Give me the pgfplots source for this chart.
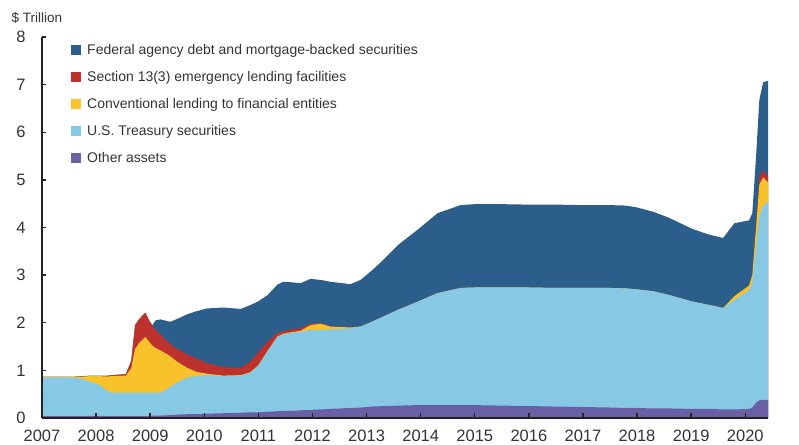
\documentclass[border=0pt]{standalone}
\usepackage{pgfplots}
\pgfplotsset{compat=1.18}
\usepackage{pgfplotstable}
\usepackage{fontspec}
\setmainfont{Liberation Sans}

\definecolor{agency}{HTML}{2C5E8C}
\definecolor{sec133}{HTML}{BE322D}
\definecolor{lending}{HTML}{F8C22A}
\definecolor{treasury}{HTML}{87C8E4}
\definecolor{other}{HTML}{695FA5}
\definecolor{txt}{HTML}{333333}
\definecolor{axl}{HTML}{222222}

% cumulative tops of each layer, $ trillion
% P = other, T = +treasury, L = +conventional lending, S = +13(3), A = +agency/MBS (total)
\pgfplotstableread{
year    P     T     L     S     A
2007.00 0.04  0.85  0.86  0.86  0.87
2007.30 0.04  0.85  0.86  0.86  0.87
2007.60 0.04  0.84  0.86  0.86  0.87
2007.75 0.04  0.82  0.87  0.87  0.88
2007.90 0.04  0.76  0.88  0.88  0.89
2008.05 0.04  0.70  0.88  0.88  0.89
2008.20 0.04  0.58  0.87  0.88  0.89
2008.30 0.04  0.53  0.88  0.90  0.90
2008.55 0.04  0.53  0.89  0.92  0.92
2008.65 0.04  0.53  1.05  1.20  1.20
2008.72 0.04  0.53  1.45  1.95  1.95
2008.80 0.04  0.53  1.58  2.08  2.08
2008.91 0.04  0.53  1.70  2.21  2.21
2008.98 0.04  0.53  1.60  2.05  2.05
2009.04 0.05  0.53  1.52  1.93  1.95
2009.10 0.05  0.53  1.47  1.85  2.05
2009.19 0.05  0.53  1.42  1.75  2.07
2009.37 0.06  0.65  1.30  1.55  2.02
2009.50 0.07  0.75  1.18  1.45  2.08
2009.69 0.08  0.85  1.05  1.33  2.18
2009.85 0.08  0.88  0.97  1.25  2.24
2010.05 0.09  0.90  0.93  1.15  2.30
2010.35 0.10  0.88  0.89  1.07  2.32
2010.67 0.11  0.89  0.90  1.05  2.29
2010.85 0.12  0.95  0.96  1.18  2.37
2011.00 0.12  1.10  1.11  1.38  2.45
2011.17 0.13  1.40  1.41  1.60  2.58
2011.35 0.14  1.70  1.71  1.78  2.80
2011.46 0.15  1.76  1.77  1.82  2.86
2011.60 0.15  1.79  1.80  1.86  2.85
2011.78 0.16  1.81  1.83  1.88  2.83
2011.96 0.17  1.85  1.95  1.98  2.92
2012.15 0.18  1.85  1.98  1.99  2.90
2012.33 0.19  1.86  1.92  1.93  2.86
2012.70 0.21  1.88  1.90  1.90  2.81
2012.89 0.22  1.92  1.92  1.92  2.90
2013.10 0.24  2.02  2.02  2.02  3.10
2013.31 0.25  2.13  2.13  2.13  3.32
2013.60 0.26  2.28  2.28  2.28  3.65
2013.94 0.27  2.44  2.44  2.44  3.95
2014.31 0.27  2.62  2.62  2.62  4.30
2014.74 0.27  2.73  2.73  2.73  4.47
2015.00 0.27  2.74  2.74  2.74  4.49
2015.50 0.26  2.74  2.74  2.74  4.49
2016.00 0.25  2.74  2.74  2.74  4.48
2016.50 0.24  2.73  2.73  2.73  4.48
2017.00 0.23  2.73  2.73  2.73  4.47
2017.50 0.22  2.73  2.73  2.73  4.47
2017.80 0.21  2.72  2.72  2.72  4.46
2018.00 0.21  2.70  2.70  2.70  4.42
2018.30 0.20  2.66  2.66  2.66  4.33
2018.60 0.20  2.58  2.58  2.58  4.20
2019.00 0.19  2.45  2.45  2.45  3.98
2019.30 0.19  2.38  2.38  2.38  3.86
2019.59 0.18  2.31  2.31  2.31  3.78
2019.80 0.18  2.48  2.56  2.56  4.09
2020.07 0.19  2.68  2.78  2.78  4.15
2020.13 0.22  2.85  3.00  3.00  4.30
2020.20 0.32  3.60  4.00  4.05  5.50
2020.26 0.37  4.25  4.90  5.05  6.68
2020.33 0.38  4.45  5.05  5.20  7.05
2020.42 0.38  4.55  4.95  5.05  7.08
}\fed

\begin{document}
\begin{tikzpicture}
\begin{axis}[
    scale only axis,
    width=726pt,
    height=381pt,
    xmin=2007, xmax=2020.42,
    ymin=0, ymax=8,
    axis on top,
    hide obscured x ticks=false,
    hide obscured y ticks=false,
    axis x line*=bottom,
    axis y line*=left,
    x axis line style={-, draw=axl, line width=1.6pt},
    y axis line style={-, draw=axl, line width=1.6pt},
    tick align=inside,
    major tick length=4.5pt,
    major tick style={draw=axl, line width=1.4pt},
    xtick={2007,2008,...,2020},
    ytick={0,1,...,8},
    /pgf/number format/assume math mode=true,
    xticklabel={\pgfmathprintnumber[1000 sep={}]{\tick}},
    ticklabel style={font=\fontsize{16.5}{18}\selectfont, text=txt},
    yticklabel style={xshift=-13pt},
    xticklabel style={yshift=-8pt},
    legend cell align=left,
    legend style={at={(rel axis cs:0,1)}, anchor=north west,
        xshift=26pt, yshift=-3pt, draw=none, fill=none,
        font=\fontsize{14}{15}\selectfont, text=txt,
        row sep=11.3pt},
    legend image code/.code={\fill[#1] (0pt,-5pt) rectangle (10pt,5pt); \path (14pt,0pt);},
]
\addplot[fill=agency, draw=none] table[x=year, y=A] {\fed} \closedcycle;
\addlegendentry{Federal agency debt and mortgage-backed securities}
\addplot[fill=sec133, draw=none] table[x=year, y=S] {\fed} \closedcycle;
\addlegendentry{Section 13(3) emergency lending facilities}
\addplot[fill=lending, draw=none] table[x=year, y=L] {\fed} \closedcycle;
\addlegendentry{Conventional lending to financial entities}
\addplot[fill=treasury, draw=none] table[x=year, y=T] {\fed} \closedcycle;
\addlegendentry{U.S. Treasury securities}
\addplot[fill=other, draw=none] table[x=year, y=P] {\fed} \closedcycle;
\addlegendentry{Other assets}
\coordinate (bl) at (rel axis cs:0,0);
\coordinate (tr) at (rel axis cs:1,1);
\coordinate (tl) at (rel axis cs:0,1);
\end{axis}
\node[anchor=base west, font=\fontsize{13.5}{15}\selectfont, text=txt]
    at ([xshift=-34pt, yshift=14pt]tl) {\$ Trillion};
\useasboundingbox ([xshift=-42pt, yshift=-27pt]bl) rectangle ([xshift=31pt, yshift=37pt]tr);
\end{tikzpicture}
\end{document}
